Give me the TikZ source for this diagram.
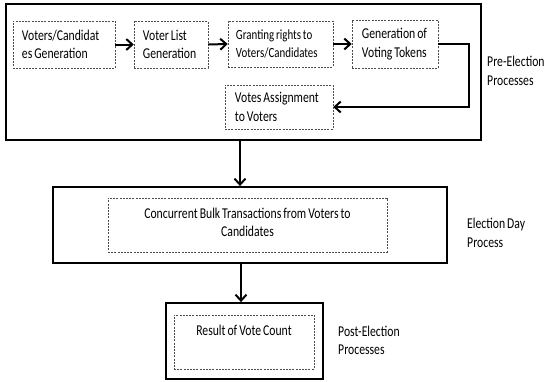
\documentclass[tikz,border=0pt]{standalone}
\usepackage{fontspec}
\setmainfont{Carlito}[FakeStretch=0.78,WordSpace=0.75]
\usetikzlibrary{arrows.meta}
\begin{document}
\begin{tikzpicture}[x=1pt,y=-1pt,
  font=\fontsize{15}{18.5}\selectfont,
  outerbox/.style={draw=black, line width=1.8pt, inner sep=0pt},
  dbox/.style={draw=black!70, line width=0.5pt, dash pattern=on 2pt off 1.2pt, inner sep=0pt},
  txt/.style={anchor=west, align=left, inner sep=0pt},
  lab/.style={anchor=west, align=left, inner sep=0pt},
  arr/.style={line width=2pt, -{Straight Barb[length=6pt,width=11pt,line width=2pt]}}
]
\useasboundingbox (0,0) rectangle (553,381);
% outer boxes
\node[outerbox, minimum width=475pt, minimum height=136pt] (pre) at (243.5,72) {};
\node[outerbox, minimum width=394pt, minimum height=76pt] (day) at (250,225) {};
\node[outerbox, minimum width=157pt, minimum height=76pt] (post) at (244.5,341) {};
% inner boxes
\node[dbox, minimum width=102pt, minimum height=47pt] (b1) at (64,44.5) {};
\node[txt] (t1) at ([xshift=9pt]b1.west) {Voters/Candidat\\es Generation};
\node[dbox, minimum width=74pt, minimum height=47pt] (b2) at (171,44.5) {};
\node[txt] (t2) at ([xshift=9pt]b2.west) {Voter List\\Generation};
\node[dbox, minimum width=105pt, minimum height=46pt] (b3) at (280.5,44) {};
\node[txt, font=\fontsize{14}{18.5}\selectfont] (t3) at ([xshift=8pt]b3.west) {Granting rights to\\Voters/Candidates};
\node[dbox, minimum width=86pt, minimum height=48pt] (b4) at (395,44) {};
\node[txt] (t4) at ([xshift=10pt]b4.west) {Generation of\\Voting Tokens};
\node[dbox, minimum width=108pt, minimum height=44pt] (b5) at (279,107) {};
\node[txt] (t5) at ([xshift=10pt]b5.west) {Votes Assignment\\to Voters};
\node[dbox, minimum width=279pt, minimum height=54pt] (b6) at (247.5,225) {};
\node[align=center, inner sep=0pt] (t6) at (247.5,222.5) {Concurrent Bulk Transactions from Voters to\\Candidates};
\node[dbox, minimum width=140pt, minimum height=54pt] (b7) at (244,342) {};
\node[inner sep=0pt] (t7) at (244,330) {Result of Vote Count};
% labels
\node[lab] (l1) at (487,71) {Pre-Election\\Processes};
\node[lab] (l2) at (467,233) {Election Day\\Process};
\node[lab] (l3) at (338,340.5) {Post-Election\\Processes};
% connectors
\draw[arr] (b1.east) -- (b2.west);
\draw[arr] (b2.east) -- (b3.west);
\draw[arr] (b3.east) -- (b4.west |- b3.east);
\coordinate (c1) at (469,44);
\coordinate (c2) at (469,107);
\draw[arr] (b4.east) -- (c1) -- (c2) -- (b5.east);
\draw[arr] (pre.south -| 240,0) -- (day.north -| 240,0);
\draw[arr] (day.south -| 241,0) -- (post.north -| 241,0);
\end{tikzpicture}
\end{document}
